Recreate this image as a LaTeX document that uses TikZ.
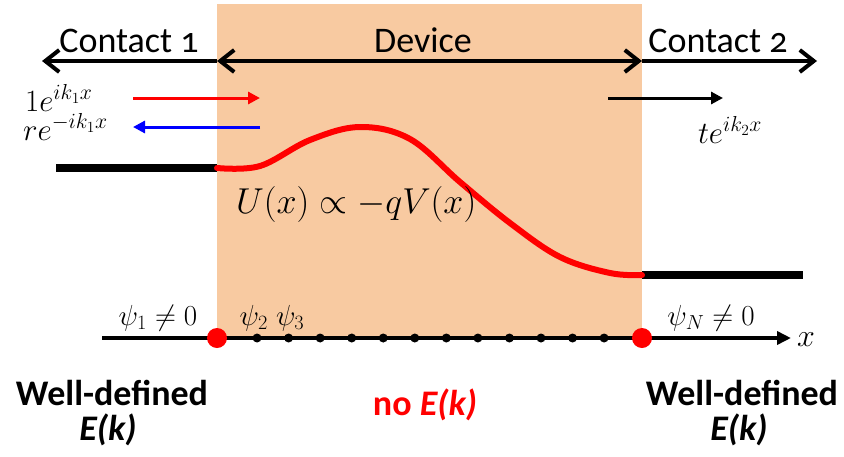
\documentclass[tikz,border=0pt]{standalone}
\usepackage{fix-cm}
\usepackage[no-math]{fontspec}
\setmainfont{Carlito}
\usetikzlibrary{arrows.meta,positioning}
\definecolor{devfill}{RGB}{248,202,161}

\begin{document}
\begin{tikzpicture}[x=1pt, y=-1pt,
        region/.style={
            rectangle, fill=devfill, draw=none, inner sep=0pt, anchor=north west
        },
        toptext/.style={
            font=\fontsize{36}{40}\selectfont\addfontfeatures{Numbers=OldStyle}, inner sep=0pt, anchor=base
        },
        wave/.style={font=\fontsize{31}{35}\selectfont, inner sep=0pt},
        psilabel/.style={font=\fontsize{29}{33}\selectfont, inner sep=0pt, anchor=base},
        bottext/.style={font=\fontsize{36}{40}\selectfont\bfseries, inner sep=0pt, anchor=base},
        arr_top/.style={line width=4pt,
            {Straight Barb[length=14pt,width=22pt]}-{Straight Barb[length=14pt,width=22pt]}},
        arr_one/.style={line width=4pt, -{Straight Barb[length=14pt,width=22pt]}},
        arr_wave/.style={line width=3pt, -{Triangle[length=12pt,width=12pt]}},
        bar/.style={line width=8pt},
        pot/.style={line width=6pt, red, line cap=round, line join=round},
        axis/.style={line width=3.5pt, -{Triangle[length=14pt,width=13pt]}},
        dot_red/.style={circle, fill=red, inner sep=0pt, minimum size=20pt},
        dot_blk/.style={circle, fill=black, inner sep=0pt, minimum size=9pt}
    ]
    \useasboundingbox (0,0) rectangle (844,456);

    % Device region
    \node[region, minimum width=425pt, minimum height=334pt] (dev) at (217,4) {};

    % Top arrows
    \coordinate (cl) at (42,61);
    \coordinate (dl) at (217,61);
    \coordinate (dr) at (642,61);
    \coordinate (cr) at (817,61);
    \draw[arr_one] (dl) -- (cl);
    \draw[arr_top] (dl) -- (dr);
    \draw[arr_one] (dr) -- (cr);
    \node[toptext] (con1) at (129,52) {Contact 1};
    \node[toptext] (devl) at (423,52) {Device};
    \node[toptext] (con2) at (718,52) {Contact 2};

    % Incoming, reflected and transmitted waves
    \coordinate (in0) at (133,98);
    \coordinate (in1) at (260,98);
    \coordinate (re0) at (260,127);
    \coordinate (re1) at (133,127);
    \coordinate (tr0) at (608,98);
    \coordinate (tr1) at (723,98);
    \draw[arr_wave, red] (in0) -- (in1);
    \draw[arr_wave, blue] (re0) -- (re1);
    \draw[arr_wave] (tr0) -- (tr1);
    \node[wave, anchor=base west] (win) at (25,111) {$1e^{ik_1x}$};
    \node[wave, anchor=base west] (wre) at (23,140) {$re^{-ik_1x}$};
    \node[wave, anchor=base] (wtr) at (730,143) {$te^{ik_2x}$};

    % Band edges and potential
    \coordinate (b1a) at (56,168);
    \coordinate (b1b) at (217,168);
    \coordinate (b2a) at (642,275);
    \coordinate (b2b) at (803,275);
    \draw[bar] (b1a) -- (b1b);
    \draw[bar] (b2a) -- (b2b);
    \draw[pot] plot[smooth, tension=0.6] coordinates {(217,168) (260,166) (310,140) (360,127)
        (410,139) (460,182) (510,223) (560,257) (610,273) (642,275)};
    \node[font=\fontsize{36}{40}\selectfont, inner sep=0pt, anchor=base west] (ueq) at (236,213)
        {$U(x)\propto -qV(x)$};

    % Grid along x
    \coordinate (ax0) at (102,338);
    \coordinate (ax1) at (791,338);
    \draw[axis] (ax0) -- (ax1);
    \node[font=\fontsize{32}{36}\selectfont, inner sep=0pt, anchor=base] (xlab) at (806,346) {$x$};
    \foreach \i in {1,...,12}
        \node[dot_blk] (d\i) at ({225.5+\i*31.55},338) {};
    \node[dot_red] (p1) at (217,338) {};
    \node[dot_red] (pN) at (642,338) {};
    \node[psilabel] (psi1) at (158,325) {$\psi_1\neq 0$};
    \node[psilabel] (psi23) at (272,325) {$\psi_2\;\psi_3$};
    \node[psilabel] (psiN) at (711,325) {$\psi_N\neq 0$};

    % Bottom labels
    \node[bottext] (wd1) at (112,405) {Well-defined};
    \node[bottext] (ek1) at (108,440) {\itshape E(k)};
    \node[bottext, text=red] (noek) at (425,415) {no \itshape E(k)};
    \node[bottext] (wd2) at (742,405) {Well-defined};
    \node[bottext] (ek2) at (739,440) {\itshape E(k)};
\end{tikzpicture}
\end{document}
